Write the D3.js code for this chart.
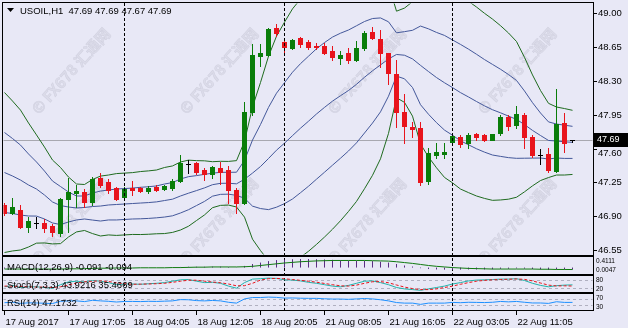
<!DOCTYPE html>
<html><head><meta charset="utf-8">
<script src="https://cdn.jsdelivr.net/npm/d3@7"></script>
<style>
html,body{margin:0;padding:0;background:#e8e8f6;}
svg{display:block;font-family:"Liberation Sans",Arial,sans-serif;}
</style></head><body>
<svg id="c" width="628" height="328"></svg>
<script>
// ---------- data ----------
const opens  = [47.02,46.93,46.96,46.79,46.83,46.83,46.80,46.73,47.08,47.14,47.15,47.05,47.30,47.25,47.19,47.10,47.19,47.19,47.16,47.20,47.18,47.19,47.26,47.44,47.45,47.38,47.34,47.40,47.38,47.17,47.04,47.98,48.56,48.57,48.85,48.70,48.64,48.74,48.70,48.66,48.66,48.61,48.54,48.59,48.52,48.64,48.81,48.73,48.59,48.37,47.98,47.82,47.81,47.26,47.53,47.54,47.67,47.72,47.66,47.75,47.74,47.69,47.76,47.93,47.84,47.95,47.72,47.53,47.54,47.37,47.86,47.69];
const highs  = [47.04,47.09,47.02,46.89,46.89,46.87,46.82,47.09,47.30,47.22,47.18,47.31,47.35,47.28,47.20,47.20,47.26,47.20,47.21,47.22,47.22,47.28,47.53,47.48,47.46,47.40,47.42,47.46,47.42,47.19,48.08,48.68,48.68,48.85,48.89,48.74,48.73,48.75,48.72,48.69,48.69,48.66,48.61,48.64,48.71,48.82,48.86,48.83,48.59,48.52,48.16,47.87,47.87,47.61,47.66,47.66,47.74,47.74,47.76,47.76,47.75,47.75,47.95,47.95,48.04,47.97,47.74,47.60,47.61,48.22,47.97,47.69];
const lows   = [46.91,46.92,46.78,46.74,46.78,46.74,46.69,46.69,46.74,46.99,47.00,47.02,47.20,47.14,47.07,47.09,47.12,47.15,47.14,47.16,47.17,47.17,47.25,47.35,47.34,47.27,47.30,47.23,47.04,46.93,47.03,47.95,48.45,48.56,48.77,48.57,48.63,48.65,48.63,48.63,48.58,48.52,48.48,48.49,48.51,48.62,48.73,48.44,48.27,47.82,47.66,47.72,47.22,47.23,47.50,47.50,47.66,47.62,47.61,47.69,47.68,47.69,47.74,47.79,47.81,47.61,47.51,47.44,47.36,47.36,47.56,47.67];
const closes = [46.93,46.99,46.79,46.85,46.83,46.78,46.74,47.08,47.15,47.16,47.05,47.29,47.22,47.17,47.08,47.18,47.17,47.16,47.19,47.17,47.21,47.26,47.45,47.44,47.36,47.34,47.41,47.36,47.17,47.04,47.98,48.57,48.59,48.84,48.80,48.65,48.72,48.68,48.65,48.65,48.59,48.55,48.57,48.52,48.64,48.80,48.74,48.59,48.38,47.98,47.83,47.80,47.25,47.55,47.56,47.56,47.73,47.65,47.74,47.72,47.69,47.75,47.93,47.83,47.96,47.72,47.53,47.53,47.38,47.85,47.66,47.69];

// Bollinger middle line and one-deviation width
const bbMid = [47.352,47.316,47.274,47.223,47.181,47.119,47.047,47.010,46.995,46.985,46.990,47.000,47.005,47.016,47.021,47.026,47.031,47.036,47.041,47.048,47.062,47.076,47.109,47.138,47.165,47.193,47.226,47.240,47.241,47.235,47.282,47.346,47.414,47.497,47.583,47.656,47.734,47.811,47.883,47.958,48.026,48.091,48.147,48.201,48.265,48.338,48.405,48.466,48.527,48.574,48.566,48.528,48.461,48.397,48.335,48.281,48.231,48.179,48.134,48.087,48.042,48.002,47.970,47.936,47.902,47.848,47.788,47.735,47.684,47.678,47.670,47.664];
const bbDev = [0.414,0.388,0.362,0.321,0.280,0.248,0.217,0.197,0.155,0.124,0.119,0.140,0.155,0.155,0.160,0.160,0.160,0.163,0.164,0.165,0.171,0.172,0.176,0.171,0.155,0.140,0.119,0.114,0.113,0.120,0.196,0.342,0.435,0.529,0.590,0.626,0.656,0.668,0.673,0.675,0.671,0.663,0.647,0.626,0.606,0.577,0.541,0.486,0.385,0.224,0.244,0.296,0.407,0.442,0.467,0.490,0.493,0.499,0.495,0.489,0.479,0.469,0.451,0.430,0.403,0.348,0.287,0.233,0.192,0.176,0.172,0.166];

const macdMain   = [-0.05,-0.05,-0.06,-0.06,-0.06,-0.07,-0.07,-0.05,-0.03,-0.02,-0.02,0.00,0.00,0.00,-0.01,0.00,0.00,0.00,0.00,0.00,0.00,0.01,0.03,0.04,0.04,0.04,0.05,0.05,0.03,0.01,0.08,0.17,0.24,0.31,0.36,0.38,0.40,0.41,0.41,0.40,0.39,0.37,0.35,0.33,0.32,0.32,0.31,0.28,0.24,0.17,0.10,0.05,-0.03,-0.07,-0.09,-0.10,-0.10,-0.10,-0.09,-0.09,-0.09,-0.08,-0.06,-0.06,-0.04,-0.05,-0.07,-0.09,-0.11,-0.09,-0.09,-0.091];
const macdSignal = [-0.07,-0.07,-0.07,-0.07,-0.07,-0.07,-0.07,-0.07,-0.06,-0.06,-0.05,-0.04,-0.03,-0.03,-0.02,-0.02,-0.02,-0.01,-0.01,-0.01,-0.01,0.00,0.00,0.01,0.02,0.02,0.03,0.03,0.03,0.03,0.04,0.06,0.10,0.14,0.18,0.22,0.25,0.28,0.30,0.32,0.33,0.34,0.34,0.34,0.34,0.34,0.33,0.32,0.31,0.28,0.24,0.20,0.15,0.10,0.06,0.03,0.00,-0.02,-0.04,-0.05,-0.06,-0.07,-0.07,-0.07,-0.07,-0.07,-0.07,-0.08,-0.08,-0.09,-0.09,-0.094];
const macdTop = 0.4111, macdBottom = -0.26;
const macdAxisLabels = ["0.4111","0.0047"];

const stochMain   = [30,40,25,30,30,25,20,45,65,70,65,75,70,60,45,50,50,48,52,55,60,70,80,82,70,60,62,55,35,20,60,85,88,92,90,80,78,72,62,55,45,35,30,40,55,70,72,60,45,25,15,10,5,15,25,35,50,60,72,78,80,82,85,85,88,75,55,40,30,38,42,43.92];
const stochSignal = [35,35,32,30,28,28,25,30,42,58,66,70,72,68,58,52,48,49,50,52,55,62,70,77,77,70,64,59,50,37,38,55,78,88,90,87,82,76,70,63,54,45,37,35,42,55,66,67,59,43,28,17,10,10,15,25,35,48,60,70,76,80,82,84,86,83,72,57,42,36,37,35.47];
const stochLevels = [80,20];

const rsi = [45,48,40,44,43,41,39,55,58,58,53,62,58,55,50,54,54,53,55,54,56,58,67,66,60,58,61,58,48,42,72,82,82,85,83,78,79,77,76,76,73,71,71,69,72,75,72,66,58,46,42,42,33,42,42,42,47,45,48,47,46,48,54,51,54,48,43,43,40,52,47,47.17];
const rsiLevels = [70,30];

const priceTicks = [49.00,48.65,48.30,47.95,47.60,47.25,46.90,46.55];
const timeLabels = ["17 Aug 2017","17 Aug 17:05","18 Aug 04:05","18 Aug 12:05","18 Aug 20:05","21 Aug 08:05","21 Aug 16:05","22 Aug 03:05","22 Aug 11:05"];
const timeLabelBars = [0,8,16,24,32,40,48,56,64];
const separatorBars = [15,35,56];
const lastPrice = 47.69;

// ---------- drawing ----------
const svg = d3.select("#c");
const BG = "#e8e8f6";
const n = closes.length;
const L = 3, R = 593;
const panels = {
  main:  {t:3,   b:255},
  macd:  {t:257, b:274},
  stoch: {t:276, b:292},
  rsi:   {t:294, b:310}
};
const x = d3.scaleLinear().domain([0, n-1]).range([4, 572]);
const y = d3.scaleLinear().domain([46.55, 49.00]).range([250, 13.3]);
const yM = d3.scaleLinear().domain([macdBottom, macdTop]).range([273, 259]);
const yS = d3.scaleLinear().domain([0,100]).range([291, 277]);
const yR = d3.scaleLinear().domain([0,100]).range([309, 295]);

svg.append("rect").attr("width",628).attr("height",328).attr("fill",BG);

const defs = svg.append("defs");
Object.entries(panels).forEach(([k,p])=>{
  defs.append("clipPath").attr("id","clip-"+k).append("rect")
    .attr("x",L+0.5).attr("y",p.t+0.5).attr("width",R-L-1).attr("height",p.b-p.t-1);
});

// watermarks
const wm = svg.append("g").attr("clip-path","url(#clip-main)").attr("opacity",0.5);
[[72,72],[220,72],[368,72],[518,72],[72,222],[220,222],[368,222],[518,222]].forEach(([cx,cy])=>{
  wm.append("text").attr("transform",`translate(${cx},${cy}) rotate(-48)`)
    .attr("text-anchor","middle").attr("dominant-baseline","middle")
    .attr("font-family","'Noto Sans CJK SC','DejaVu Sans',sans-serif")
    .attr("font-size",15).attr("font-weight","bold")
    .attr("fill","#d0d0de").attr("stroke","#bcbccc").attr("stroke-width",0.6)
    .text("© FX678 汇通网");
});

// main panel
const gm = svg.append("g").attr("clip-path","url(#clip-main)");
gm.append("line").attr("x1",L).attr("x2",R).attr("y1",Math.round(y(lastPrice))+0.5).attr("y2",Math.round(y(lastPrice))+0.5)
  .attr("stroke","#a8a8b0").attr("stroke-width",1);

const idx = d3.range(n);
const bandLine = (k) => d3.line().x(i=>x(i)+0.5).y(i=>y(bbMid[i]+k*bbDev[i]));
[[2,"#1f6b1f"],[-2,"#1f6b1f"],[1,"#44589a"],[-1,"#44589a"],[0,"#44589a"]].forEach(([k,c])=>{
  gm.append("path").datum(idx).attr("d",bandLine(k)).attr("fill","none").attr("stroke",c).attr("stroke-width",1);
});

// candles
const candleColor = i => closes[i]>opens[i] ? "#0a7d0a" : (closes[i]<opens[i] ? "#e8141c" : "#000");
const cg = gm.append("g");
idx.forEach(i=>{
  const cx = Math.round(x(i));
  const col = candleColor(i);
  cg.append("line").attr("x1",cx+0.5).attr("x2",cx+0.5)
    .attr("y1",Math.round(y(highs[i]))).attr("y2",Math.round(y(lows[i]))+1)
    .attr("stroke",col).attr("stroke-width",1);
  const top = Math.round(y(Math.max(opens[i],closes[i])));
  const bot = Math.round(y(Math.min(opens[i],closes[i])));
  if (closes[i]===opens[i]) {
    cg.append("line").attr("x1",cx-2).attr("x2",cx+3).attr("y1",top+0.5).attr("y2",top+0.5).attr("stroke",col);
  } else {
    cg.append("rect").attr("x",cx-2).attr("y",top).attr("width",5).attr("height",Math.max(1,bot-top+1)).attr("fill",col);
  }
});

// separators
separatorBars.forEach(b=>{
  svg.append("line").attr("x1",Math.round(x(b))+0.5).attr("x2",Math.round(x(b))+0.5)
    .attr("y1",panels.main.t).attr("y2",panels.rsi.b).attr("stroke","#000").attr("stroke-dasharray","3,2");
});

// MACD panel
const gmacd = svg.append("g").attr("clip-path","url(#clip-macd)");
idx.forEach(i=>{
  gmacd.append("line").attr("x1",Math.round(x(i))+0.5).attr("x2",Math.round(x(i))+0.5)
    .attr("y1",yM(0)).attr("y2",yM(macdMain[i])).attr("stroke","#5a2d82").attr("stroke-width",1);
});
gmacd.append("path").datum(idx).attr("d",d3.line().x(i=>x(i)+0.5).y(i=>yM(macdSignal[i])))
  .attr("fill","none").attr("stroke","#0f7a0f").attr("stroke-width",1);

// Stoch panel
const gst = svg.append("g").attr("clip-path","url(#clip-stoch)");
stochLevels.forEach(v=>gst.append("line").attr("x1",L).attr("x2",R).attr("y1",Math.round(yS(v))+0.5).attr("y2",Math.round(yS(v))+0.5)
  .attr("stroke","#b0b0c0").attr("stroke-dasharray","3,3"));
gst.append("path").datum(idx).attr("d",d3.line().x(i=>x(i)+0.5).y(i=>yS(stochMain[i])))
  .attr("fill","none").attr("stroke","#20b2aa");
gst.append("path").datum(idx).attr("d",d3.line().x(i=>x(i)+0.5).y(i=>yS(stochSignal[i])))
  .attr("fill","none").attr("stroke","#e8141c").attr("stroke-dasharray","3,2");

// RSI panel
const grs = svg.append("g").attr("clip-path","url(#clip-rsi)");
rsiLevels.forEach(v=>grs.append("line").attr("x1",L).attr("x2",R).attr("y1",Math.round(yR(v))+0.5).attr("y2",Math.round(yR(v))+0.5)
  .attr("stroke","#b0b0c0").attr("stroke-dasharray","3,3"));
grs.append("path").datum(idx).attr("d",d3.line().x(i=>x(i)+0.5).y(i=>yR(rsi[i])))
  .attr("fill","none").attr("stroke","#1e90ff");

// frames
Object.values(panels).forEach(p=>{
  svg.append("rect").attr("x",L-0.5).attr("y",p.t-0.5).attr("width",R-L+1).attr("height",p.b-p.t+1)
    .attr("fill","none").attr("stroke","#000").attr("stroke-width",1);
});

// price axis
const ly = Math.round(y(lastPrice));
const pa = svg.append("g").attr("font-size",9.5).attr("fill","#000");
priceTicks.forEach(v=>{
  const yy = Math.round(y(v))+0.5;
  pa.append("line").attr("x1",R).attr("x2",R+4).attr("y1",yy).attr("y2",yy).attr("stroke","#000");
  // keep the label just below the last-price box clear of it
  const ty = (Math.abs(yy-ly) < 14) ? Math.max(yy, ly+13) : yy;
  pa.append("text").attr("x",R+5).attr("y",ty).attr("dominant-baseline","middle").text(v.toFixed(2));
});
svg.append("rect").attr("x",R+1).attr("y",ly-7).attr("width",34).attr("height",14).attr("fill","#000");
svg.append("text").attr("x",R+4).attr("y",ly).attr("dominant-baseline","middle").attr("font-size",9)
  .attr("fill","#fff").text(lastPrice.toFixed(2));

// indicator axis labels (small, stacked without overlap)
const ia = svg.append("g").attr("font-size",6.5).attr("fill","#000");
ia.append("text").attr("x",R+3).attr("y",263).text(macdAxisLabels[0]);
ia.append("text").attr("x",R+3).attr("y",272).text(macdAxisLabels[1]);
ia.append("text").attr("x",R+3).attr("y",282).text(String(stochLevels[0]));
ia.append("text").attr("x",R+3).attr("y",291).text(String(stochLevels[1]));
ia.append("text").attr("x",R+3).attr("y",300).text(String(rsiLevels[0]));
ia.append("text").attr("x",R+3).attr("y",309).text(String(rsiLevels[1]));

// time axis
const ta = svg.append("g").attr("font-size",9.5).attr("fill","#000");
timeLabelBars.forEach((b,k)=>{
  const xx = Math.round(x(b))+0.5;
  ta.append("line").attr("x1",xx).attr("x2",xx).attr("y1",panels.rsi.b).attr("y2",panels.rsi.b+5).attr("stroke","#000");
  ta.append("text").attr("x",xx+1).attr("y",325).text(timeLabels[k]);
});

// titles
svg.append("path").attr("d","M7,8 L14,8 L10.5,12 Z").attr("fill","#000");
svg.append("text").attr("x",20).attr("y",14).attr("font-size",9.5).style("white-space","pre").text("USOIL,H1  47.69 47.69 47.67 47.69");
svg.append("text").attr("x",7).attr("y",270).attr("font-size",9.5).text("MACD(12,26,9) -0.091 -0.094");
svg.append("text").attr("x",7).attr("y",288).attr("font-size",9.5).text("Stoch(7,3,3) 43.9216 35.4669");
svg.append("text").attr("x",7).attr("y",306).attr("font-size",9.5).text("RSI(14) 47.1732");
</script>
</body></html>
